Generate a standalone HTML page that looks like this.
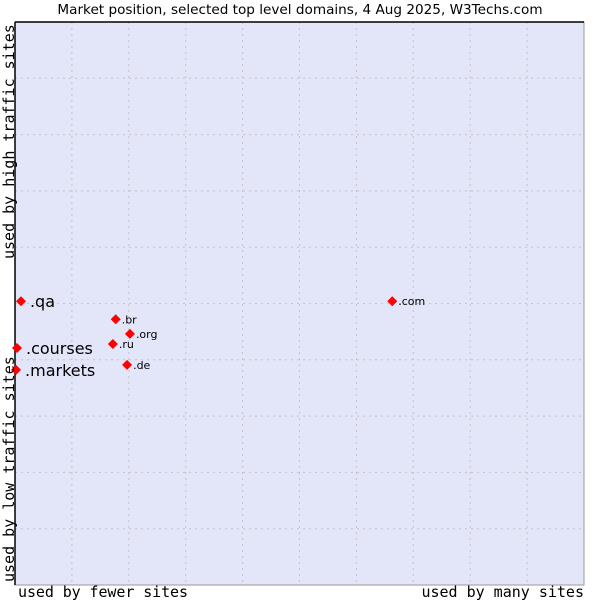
<!DOCTYPE html>
<html><head><meta charset="utf-8"><style>
body{margin:0;background:#fff;}
svg text{font-family:"DejaVu Sans","Liberation Sans",sans-serif;}
.mono{font-family:"DejaVu Sans Mono","Liberation Mono",monospace;}
</style></head><body>
<svg id="chart" width="600" height="600" xmlns="http://www.w3.org/2000/svg">
<text x="300" y="14" font-size="13.6" text-anchor="middle" fill="#000">Market position, selected top level domains, 4 Aug 2025, W3Techs.com</text>
<rect x="15" y="22" width="569" height="563" fill="#e3e5f8" stroke="#999" stroke-width="1"/>
<g id="grid"></g>
<line x1="15" y1="22" x2="584" y2="22" stroke="#000" stroke-width="1.5"/>
<line x1="15" y1="22" x2="15" y2="585" stroke="#000" stroke-width="1.5"/>
<g id="points"></g>
<text class="mono" x="18" y="597" font-size="15" textLength="170">used by fewer sites</text>
<text class="mono" x="584" y="597" font-size="15" text-anchor="end">used by many sites</text>
<text class="mono" transform="translate(14,582) rotate(-90)" font-size="15">used by low traffic sites</text>
<text class="mono" transform="translate(14,259) rotate(-90)" font-size="15">used by high traffic sites</text>
</svg>
<script>
const domains=[".qa",".courses",".markets",".br",".org",".ru",".de",".com"];
const usage=[1.05,0.35,0.18,17.7,20.2,17.2,19.7,66.3];
const traffic=[50.4,42.1,38.2,47.2,44.6,42.8,39.1,50.4];
const labelSizes=[16,16,16,11,11,11,11,11];
const X0=15,X1=584,Y0=585,Y1=22;
function xs(v){return X0+v/100*(X1-X0);}
function ys(v){return Y0-v/100*(Y0-Y1);}
const ns="http://www.w3.org/2000/svg";
const grid=document.getElementById('grid');
for(let i=1;i<10;i++){
 const v=document.createElementNS(ns,'line');
 v.setAttribute('x1',xs(i*10));v.setAttribute('x2',xs(i*10));v.setAttribute('y1',Y1);v.setAttribute('y2',Y0);
 v.setAttribute('stroke','#c4c4c4');v.setAttribute('stroke-dasharray','2,4');
 
 
 grid.appendChild(v);
 const h=document.createElementNS(ns,'line');
 h.setAttribute('y1',ys(i*10));h.setAttribute('y2',ys(i*10));h.setAttribute('x1',X0);h.setAttribute('x2',X1);
 h.setAttribute('stroke','#c4c4c4');h.setAttribute('stroke-dasharray','2,4');
 
 
 grid.appendChild(h);
}
const pts=document.getElementById('points');
domains.forEach((d,i)=>{
 const x=xs(usage[i]),y=ys(traffic[i]);
 const p=document.createElementNS(ns,'path');
 p.setAttribute('d',`M${x},${y-5}L${x+5},${y}L${x},${y+5}L${x-5},${y}Z`);
 p.setAttribute('fill','#f00');
 
 
 pts.appendChild(p);
 const t=document.createElementNS(ns,'text');
 t.setAttribute('x',x+(labelSizes[i]>12?9:6));
 t.setAttribute('y',y+(labelSizes[i]>12?6:4));
 t.setAttribute('font-size',labelSizes[i]);
 t.textContent=d;
 
 
 pts.appendChild(t);
});
</script>
</body></html>
